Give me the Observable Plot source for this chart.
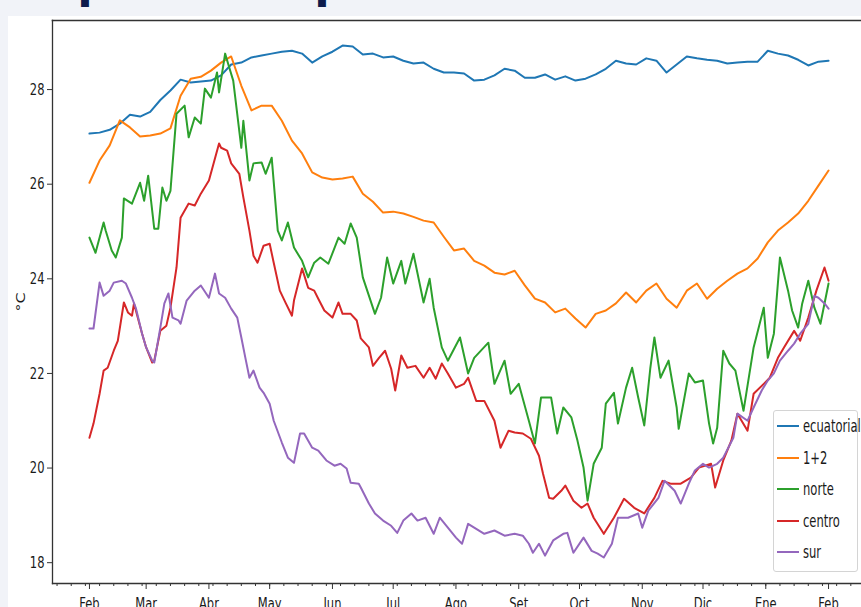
<!DOCTYPE html>
<html><head><meta charset="utf-8">
<script src="https://cdn.jsdelivr.net/npm/d3@7"></script>
<script src="https://cdn.jsdelivr.net/npm/@observablehq/plot@0.6"></script>
<style>
html,body{margin:0;padding:0;overflow:hidden;}
body{width:861px;height:607px;overflow:hidden;background:#f1f3f8;position:relative;font-family:"DejaVu Sans",sans-serif;}
#title{position:absolute;left:0;top:0;width:861px;height:16px;overflow:hidden;}
#title span{position:absolute;left:-25px;top:-40px;font-weight:bold;font-size:45px;line-height:45px;font-family:"DejaVu Sans";color:#0d1b4c;white-space:nowrap;}
#panel{position:absolute;left:8px;top:16px;width:853px;height:591px;background:#fff;}
#chart{position:absolute;left:8px;top:16px;width:853px;height:591px;overflow:hidden;}
#chart svg{max-width:none !important;}
#legend{position:absolute;left:773px;top:410px;width:85px;height:162px;border:1px solid #d4d4d4;border-radius:3px;background:rgba(255,255,255,0.85);box-sizing:border-box;}
.item{position:absolute;left:0;height:20px;width:100%;}
.sw{position:absolute;left:3px;width:22px;height:2px;top:9px;}
.lb{position:absolute;left:29px;top:0;font-size:17px;line-height:20px;color:#1a1a1a;white-space:nowrap;transform:scaleX(0.68);transform-origin:0 50%;}
</style></head>
<body>
<div id="title"><span>Temperatura promedio</span></div>
<div id="panel"></div>
<div id="chart"></div>
<div id="legend"></div>
<script>
const seriesNames = ["ecuatorial", "1+2", "norte", "centro", "sur"];
const seriesColors = ["#1f77b4", "#ff7f0e", "#2ca02c", "#d62728", "#9467bd"];
const monthNames = ["Ene","Feb","Mar","Abr","May","Jun","Jul","Ago","Set","Oct","Nov","Dic"];
const yTicks = [18, 20, 22, 24, 26, 28];
const startDate = Date.UTC(2023, 1, 1); // 1 Feb
const lastDay = 365;                      // 1 Feb of the next year

// days since 1 Feb, and °C values
const days5 = d3.range(0, lastDay + 1, 5);
const ecuatorial = [27.07,27.09,27.15,27.28,27.47,27.43,27.53,27.78,27.98,28.21,28.15,28.17,28.19,28.30,28.53,28.57,28.68,28.72,28.76,28.80,28.82,28.76,28.57,28.70,28.80,28.93,28.91,28.74,28.76,28.68,28.70,28.61,28.55,28.57,28.44,28.36,28.36,28.34,28.19,28.21,28.30,28.44,28.40,28.25,28.25,28.32,28.21,28.28,28.19,28.23,28.32,28.44,28.61,28.55,28.53,28.66,28.61,28.36,28.53,28.70,28.66,28.63,28.61,28.55,28.57,28.59,28.59,28.82,28.76,28.72,28.63,28.51,28.59,28.61];
const uno_dos = [26.03,26.50,26.82,27.35,27.20,27.01,27.03,27.07,27.18,27.87,28.23,28.27,28.40,28.57,28.70,28.08,27.56,27.66,27.66,27.34,26.92,26.65,26.25,26.14,26.10,26.12,26.16,25.80,25.63,25.40,25.42,25.38,25.31,25.23,25.19,24.89,24.60,24.64,24.38,24.28,24.13,24.09,24.17,23.86,23.58,23.50,23.29,23.37,23.16,22.97,23.26,23.33,23.48,23.71,23.50,23.75,23.90,23.58,23.39,23.75,23.90,23.58,23.79,23.96,24.11,24.22,24.43,24.77,25.02,25.19,25.38,25.65,25.97,26.29];

const norteDays = [0,3,7,8,11,13,16,17,21,25,27,29,32,34,36,38,40,43,47,49,52,55,57,60,63,64,67,69,71,75,76,79,81,85,87,90,93,95,98,101,105,108,111,114,118,123,126,129,132,135,141,144,147,150,154,156,160,165,168,170,174,177,183,187,190,197,200,205,208,212,217,220,223,228,231,234,238,241,244,246,249,253,255,259,261,265,268,271,274,277,279,282,286,290,291,296,299,303,306,308,310,313,316,319,323,328,333,335,338,341,345,347,350,352,355,358,361,365];
const norte = [24.87,24.55,25.19,25.02,24.60,24.45,24.87,25.70,25.59,26.03,25.65,26.18,25.06,25.06,25.93,25.65,25.86,27.49,27.66,26.99,27.41,27.28,28.02,27.83,28.36,27.94,28.76,28.47,28.19,26.77,27.34,26.08,26.44,26.46,26.22,26.56,25.02,24.81,25.19,24.66,24.38,24.03,24.34,24.45,24.32,24.87,24.74,25.17,24.87,24.03,23.26,23.60,24.45,23.90,24.38,23.90,24.53,23.50,24.00,23.39,22.55,22.27,22.76,22.00,22.33,22.65,21.78,22.27,21.57,21.78,21.00,20.52,21.49,21.49,20.73,21.28,21.07,20.58,20.01,19.31,20.09,20.43,21.36,21.59,20.94,21.70,22.12,21.49,20.90,22.12,22.76,21.91,22.27,21.28,20.83,22.00,21.81,21.85,20.94,20.52,20.85,22.48,22.21,22.06,21.21,22.55,23.39,22.33,22.84,24.45,23.75,23.33,22.97,23.48,23.96,23.39,23.05,23.90];

const centroDays = [0,2,5,7,9,12,14,17,19,21,22,26,28,31,32,35,38,40,43,45,49,52,55,59,64,65,68,70,74,76,79,81,83,86,89,91,94,97,100,101,105,108,111,113,116,120,123,125,129,132,134,138,140,143,146,149,151,154,157,161,165,168,171,174,177,181,185,187,191,195,200,203,207,210,214,218,222,224,227,229,233,235,239,243,246,249,254,259,264,269,274,279,283,287,292,297,301,307,309,313,317,320,325,328,333,336,340,343,348,351,355,359,363,365];
const centro = [20.64,20.94,21.57,22.06,22.12,22.48,22.69,23.50,23.29,23.22,23.48,22.84,22.55,22.23,22.27,22.90,23.01,23.39,24.24,25.29,25.59,25.55,25.80,26.08,26.86,26.77,26.71,26.44,26.22,25.72,25.02,24.49,24.34,24.70,24.74,24.34,23.75,23.48,23.22,23.54,24.22,23.81,23.75,23.58,23.33,23.18,23.50,23.26,23.26,23.12,22.74,22.55,22.16,22.33,22.48,22.10,21.64,22.38,22.12,22.16,21.91,22.12,21.89,22.21,22.00,21.70,21.78,21.91,21.42,21.42,21.00,20.43,20.79,20.75,20.73,20.62,20.26,19.88,19.37,19.35,19.52,19.63,19.31,19.16,19.25,18.95,18.61,18.95,19.35,19.16,19.04,19.37,19.73,19.67,19.67,19.80,20.01,20.09,19.59,20.16,20.58,21.15,20.79,21.57,21.78,21.91,22.33,22.55,22.90,22.69,23.18,23.75,24.24,23.96];

const surDays = [0,2,5,7,10,12,16,18,21,23,26,28,31,32,35,37,39,41,44,45,48,52,55,59,62,64,67,70,73,75,77,79,81,84,86,89,91,95,98,101,104,106,110,113,117,121,124,127,129,133,134,138,141,145,149,152,155,159,162,166,170,173,177,181,184,187,190,195,200,205,210,214,217,219,222,225,229,234,236,239,244,248,251,254,258,261,266,271,273,276,281,284,289,292,296,299,303,306,310,313,318,320,325,328,332,335,338,341,345,348,351,355,358,360,363,365];
const sur = [22.95,22.95,23.92,23.64,23.75,23.92,23.96,23.90,23.60,23.37,22.84,22.55,22.27,22.23,22.97,23.48,23.69,23.18,23.12,23.05,23.54,23.75,23.86,23.60,24.11,23.69,23.60,23.37,23.18,22.76,22.33,21.91,22.06,21.70,21.59,21.36,21.00,20.54,20.22,20.11,20.73,20.73,20.43,20.37,20.16,20.05,20.09,19.99,19.69,19.67,19.59,19.25,19.04,18.89,18.78,18.63,18.89,19.04,18.89,18.95,18.61,18.95,18.74,18.53,18.40,18.82,18.74,18.61,18.68,18.57,18.61,18.57,18.40,18.21,18.40,18.15,18.47,18.61,18.63,18.21,18.53,18.25,18.19,18.11,18.40,18.95,18.95,19.04,18.74,19.10,19.37,19.73,19.52,19.25,19.67,19.95,20.09,20.01,20.09,20.22,20.64,21.15,21.00,21.28,21.64,21.85,22.00,22.27,22.48,22.63,22.84,23.05,23.64,23.60,23.48,23.37];

const seriesDays = [days5, days5, norteDays, centroDays, surDays];
const seriesValues = [ecuatorial, uno_dos, norte, centro, sur];
const dayMs = 864e5;
const rows = [];
seriesValues.forEach((vals, i) => {
  vals.forEach((v, k) => rows.push({date: new Date(startDate + seriesDays[i][k] * dayMs), value: v, series: seriesNames[i]}));
});
const endDate = new Date(startDate + lastDay * dayMs);
const pad = 0.05 * (endDate - startDate);
const xDomain = [new Date(startDate - pad), new Date(+endDate + pad)];
const months = d3.utcMonth.range(new Date(startDate), new Date(+endDate + 1));
const weeks = d3.utcMonday.range(xDomain[0], xDomain[1]);

const chart = Plot.plot({
  width: 900, height: 600,
  marginLeft: 44, marginRight: 43, marginTop: 4, marginBottom: 33,
  style: {fontFamily: "DejaVu Sans", fontSize: "16px", color: "#1a1a1a", background: "transparent", maxWidth: "none"},
  x: {type: "utc", domain: xDomain},
  y: {domain: [17.56, 29.46]},
  color: {domain: seriesNames, range: seriesColors},
  marks: [
    Plot.axisX(weeks, {tickSize: 3, tickFormat: () => "", stroke: "#333"}),
    Plot.axisX(months, {tickSize: 6, tickPadding: 8, tickFormat: d => monthNames[d.getUTCMonth()], label: null, stroke: "#333"}),
    Plot.axisY(yTicks, {tickSize: 5, tickPadding: 3, label: "°C", labelArrow: "none", labelAnchor: "center", labelOffset: 36, stroke: "#333"}),
    Plot.line(rows, {x: "date", y: "value", z: "series", stroke: "series", strokeWidth: 2}),
    Plot.frame({anchor: "top", stroke: "#333", strokeWidth: 1.6}),
    Plot.frame({anchor: "left", stroke: "#333", strokeWidth: 1.3}),
    Plot.frame({anchor: "bottom", stroke: "#333", strokeWidth: 1.3})
  ]
});
document.getElementById("chart").appendChild(chart);

// horizontal squeeze of the text, as in the reference
chart.querySelectorAll("text").forEach(t => {
  const tr = t.getAttribute("transform") || "";
  if (tr.includes("rotate")) t.setAttribute("transform", tr + " scale(1,0.72)");
  else t.setAttribute("transform", tr + " scale(0.72,1)");
});

const legend = document.getElementById("legend");
seriesNames.forEach((name, i) => {
  const it = document.createElement("div");
  it.className = "item";
  it.style.top = (5 + i * 31.5) + "px";
  const sw = document.createElement("div");
  sw.className = "sw"; sw.style.background = seriesColors[i];
  const lb = document.createElement("div");
  lb.className = "lb"; lb.textContent = name;
  it.appendChild(sw); it.appendChild(lb);
  legend.appendChild(it);
});
</script>
</body></html>
